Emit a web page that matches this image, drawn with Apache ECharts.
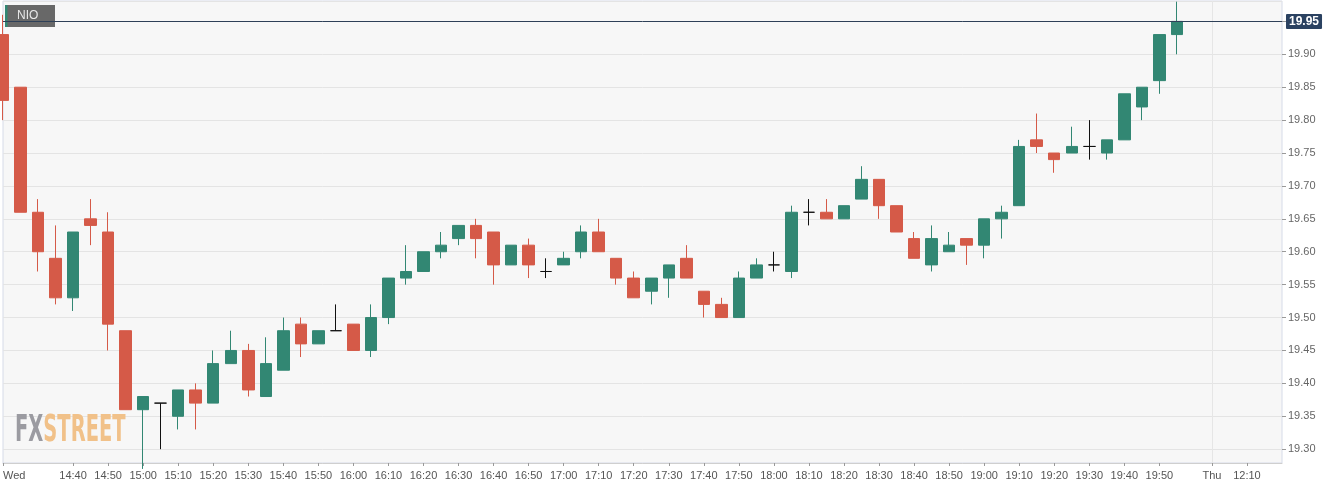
<!DOCTYPE html>
<html>
<head>
<meta charset="utf-8">
<script src="https://cdn.jsdelivr.net/npm/echarts@6/dist/echarts.min.js"></script>
<style>
html,body{margin:0;padding:0;background:#fff;}
#chart{width:1340px;height:489px;}
</style>
</head>
<body>
<div id="chart"></div>
<script>
// ---- data ----
const categories = [
 '14:20','14:25','14:30','14:35','14:40','14:45','14:50','14:55',
 '15:00','15:05','15:10','15:15','15:20','15:25','15:30','15:35','15:40','15:45','15:50','15:55',
 '16:00','16:05','16:10','16:15','16:20','16:25','16:30','16:35','16:40','16:45','16:50','16:55',
 '17:00','17:05','17:10','17:15','17:20','17:25','17:30','17:35','17:40','17:45','17:50','17:55',
 '18:00','18:05','18:10','18:15','18:20','18:25','18:30','18:35','18:40','18:45','18:50','18:55',
 '19:00','19:05','19:10','19:15','19:20','19:25','19:30','19:35','19:40','19:45','19:50','19:55',
 '20:00','12:00','12:05','12:10','12:15','12:20'
];
const dayLabels = { '14:20': 'Wed', '12:00': 'Thu' };
const tickLabels = ['14:20','14:40','14:50','15:00','15:10','15:20','15:30','15:40','15:50',
 '16:00','16:10','16:20','16:30','16:40','16:50','17:00','17:10','17:20','17:30','17:40','17:50',
 '18:00','18:10','18:20','18:30','18:40','18:50','19:00','19:10','19:20','19:30','19:40','19:50',
 '12:00','12:10'];
const opens = [19.93,19.85,19.66,19.59,19.53,19.65,19.63,19.48,19.36,19.37,19.35,19.39,19.37,19.43,19.45,19.38,19.42,19.49,19.46,19.48,
 19.49,19.45,19.50,19.56,19.57,19.60,19.62,19.64,19.63,19.58,19.61,19.57,19.58,19.60,19.63,19.59,19.56,19.54,19.56,19.59,
 19.54,19.52,19.50,19.56,19.58,19.57,19.66,19.66,19.65,19.68,19.71,19.67,19.62,19.58,19.60,19.62,19.61,19.65,19.67,19.77,
 19.75,19.75,19.76,19.75,19.77,19.82,19.86,19.93];
const closes = [19.83,19.66,19.60,19.53,19.63,19.64,19.49,19.36,19.38,19.37,19.39,19.37,19.43,19.45,19.39,19.43,19.48,19.46,19.48,19.48,
 19.45,19.50,19.56,19.57,19.60,19.61,19.64,19.62,19.58,19.61,19.58,19.57,19.59,19.63,19.60,19.56,19.53,19.56,19.58,19.56,
 19.52,19.50,19.56,19.58,19.58,19.66,19.66,19.65,19.67,19.71,19.67,19.63,19.59,19.62,19.61,19.61,19.65,19.66,19.76,19.76,
 19.74,19.76,19.76,19.77,19.84,19.85,19.93,19.95];
const lows = [19.80,19.66,19.57,19.52,19.51,19.61,19.45,19.36,19.27,19.30,19.33,19.33,19.37,19.43,19.38,19.38,19.42,19.44,19.46,19.48,
 19.45,19.44,19.49,19.55,19.57,19.59,19.61,19.59,19.55,19.58,19.56,19.56,19.58,19.59,19.60,19.55,19.53,19.52,19.53,19.56,
 19.50,19.50,19.50,19.56,19.57,19.56,19.64,19.65,19.65,19.68,19.65,19.63,19.59,19.57,19.60,19.58,19.59,19.62,19.67,19.75,
 19.72,19.75,19.74,19.74,19.77,19.80,19.84,19.90];
const highs = [19.96,19.85,19.68,19.64,19.63,19.68,19.66,19.48,19.38,19.37,19.39,19.40,19.45,19.48,19.46,19.47,19.50,19.50,19.48,19.52,
 19.49,19.52,19.56,19.61,19.60,19.63,19.64,19.65,19.63,19.61,19.62,19.59,19.60,19.64,19.65,19.59,19.57,19.56,19.58,19.61,
 19.54,19.53,19.57,19.59,19.60,19.67,19.68,19.68,19.67,19.73,19.71,19.67,19.63,19.64,19.63,19.62,19.65,19.67,19.77,19.81,
 19.75,19.79,19.80,19.77,19.84,19.85,19.93,19.98];
const symbolName = 'NIO';
const yMin = 19.279, yMax = 19.981;

// ---- build ----
const candleData = categories.map((c, i) =>
  i < opens.length ? [opens[i], closes[i], lows[i], highs[i]] : '-');
const lastClose = closes[closes.length - 1];
const UP = '#328773', DOWN = '#d55a48', NAVY = '#2b4261';
const FONT = '"Liberation Sans", Arial, sans-serif';
const showTick = (idx, val) => tickLabels.indexOf(categories[idx]) >= 0;

const chart = echarts.init(document.getElementById('chart'), null, { renderer: 'canvas' });
chart.setOption({
  animation: false,
  backgroundColor: '#ffffff',
  grid: {
    left: 0, top: 1, right: 58, bottom: 26,
    show: true, backgroundColor: '#f7f7f7', borderColor: '#d6dbe8', borderWidth: 1
  },
  xAxis: {
    type: 'category',
    data: categories,
    boundaryGap: false,
    axisLine: { show: true, lineStyle: { color: '#cfcfcf' } },
    axisTick: { show: true, interval: showTick, length: 3, lineStyle: { color: '#999' } },
    axisLabel: {
      interval: showTick, color: '#555', fontSize: 11, fontFamily: FONT, margin: 7,
      alignMinLabel: 'left',
      formatter: v => dayLabels[v] || v
    },
    splitLine: { show: false }
  },
  yAxis: {
    type: 'value',
    position: 'right',
    min: yMin, max: yMax,
    splitNumber: 14,
    scale: true,
    axisLine: { show: false },
    axisTick: { show: true, length: 4, lineStyle: { color: '#999' } },
    axisLabel: {
      color: '#666', fontSize: 11, fontFamily: FONT, margin: 6,
      showMinLabel: false, showMaxLabel: false,
      formatter: v => v.toFixed(2)
    },
    splitLine: { show: true, lineStyle: { color: '#e4e4e4', width: 1 } }
  },
  series: [{
    type: 'candlestick',
    data: candleData,
    barWidth: 12,
    clip: true,
    itemStyle: {
      color: UP, color0: DOWN, borderColor: UP, borderColor0: DOWN,
      borderColorDoji: '#111', borderWidth: 1
    },
    markLine: {
      silent: true,
      symbol: ['none', 'none'],
      animation: false,
      data: [
        { xAxis: '12:00', lineStyle: { color: '#e6e6e6', width: 1, type: 'solid' }, label: { show: false } },
        {
          yAxis: lastClose,
          lineStyle: { color: '#2e4058', width: 1, type: 'solid' },
          label: {
            show: true, position: 'end', distance: 4,
            formatter: () => lastClose.toFixed(2),
            color: '#fff', fontWeight: 'bold', fontSize: 12, fontFamily: FONT,
            backgroundColor: NAVY, padding: [2, 3, 1, 3], borderRadius: 1
          }
        }
      ]
    }
  }],
  graphic: [
    {
      type: 'group', left: 5, top: 5, z: 1,
      children: [
        { type: 'rect', shape: { x: 0, y: 0, width: 50, height: 22 }, style: { fill: 'rgba(88,88,88,0.9)' } },
        { type: 'rect', shape: { x: 0, y: 0, width: 2.5, height: 22 }, style: { fill: UP } },
        { type: 'text', x: 12, y: 5, style: { text: symbolName, fill: '#e8e8e8', font: '12px ' + FONT } }
      ]
    },
    {
      type: 'text', x: 15, y: 413, z: 1, scaleX: 0.585,
      style: {
        text: '{a|FX}{b|STREET}',
        rich: {
          a: { fill: '#9b9ba1', font: 'bold 37px "Liberation Sans Narrow", "DejaVu Sans Condensed", sans-serif' },
          b: { fill: '#f1c189', font: 'bold 37px "Liberation Sans Narrow", "DejaVu Sans Condensed", sans-serif' }
        }
      }
    }
  ]
});

// small arrow pointing from the price tag to the price line
const py = chart.convertToPixel({ yAxisIndex: 0 }, lastClose);
const px = chart.convertToPixel({ xAxisIndex: 0 }, categories[categories.length - 1]);
chart.setOption({
  graphic: [{
    type: 'polygon', z: 10,
    shape: { points: [[px + 0.5, py], [px + 4.5, py - 4.5], [px + 4.5, py + 4.5]] },
    style: { fill: NAVY }
  }]
});
</script>
</body>
</html>
